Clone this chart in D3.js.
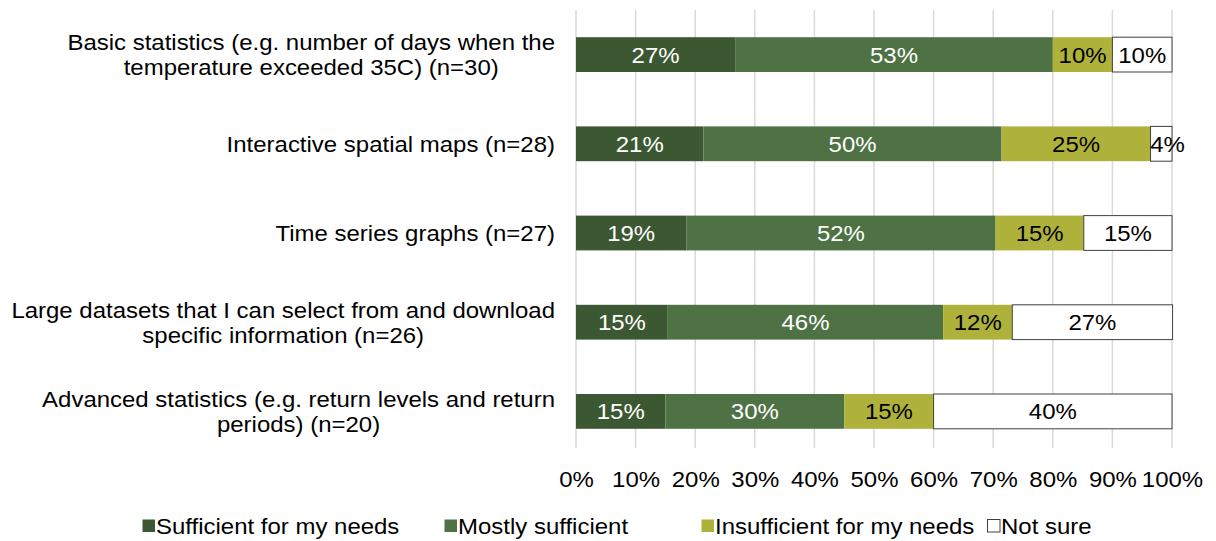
<!DOCTYPE html>
<html>
<head>
<meta charset="utf-8">
<script src="https://cdn.jsdelivr.net/npm/d3@7"></script>
<style>
  body { margin: 0; background: #fff; }
  svg { font-family: "Liberation Sans", Arial, sans-serif; }
</style>
</head>
<body>
<div id="chart"></div>
<script>
// kategorier, en rad per array-element (radbrytningar som i originalet)
const categories = [
  ["Basic statistics (e.g. number of days when the", "temperature exceeded 35C) (n=30)"],
  ["Interactive spatial maps (n=28)"],
  ["Time series graphs (n=27)"],
  ["Large datasets that I can select from and download", "specific information (n=26)"],
  ["Advanced statistics (e.g. return levels and return", "periods) (n=20)"]
];
const seriesNames = ["Sufficient for my needs", "Mostly sufficient", "Insufficient for my needs", "Not sure"];
// andelar i procent
const sufficient = [26.7, 21.4, 18.5, 15.4, 15];
const mostly = [53.3, 50, 51.9, 46.2, 30];
const insufficient = [10, 25, 14.8, 11.6, 15];
const notSure = [10, 3.6, 14.8, 26.9, 40];
const xTicks = [0, 10, 20, 30, 40, 50, 60, 70, 80, 90, 100];

const colors = ["#3c5832", "#4e7244", "#aeb23a", "#ffffff"];
const labelColors = ["#ffffff", "#ffffff", "#000000", "#000000"];

const width = 1216, height = 541;
const margin = { left: 576, right: 44, top: 10, bottom: 85 };
const innerW = width - margin.left - margin.right;
const innerH = height - margin.top - margin.bottom;
// texten i originalet är lite utdragen på bredden
const fontSize = 22;
const sx = 1.09;

// bygg rader för d3.stack
const rows = categories.map((c, i) => ({
  idx: i,
  s0: sufficient[i], s1: mostly[i], s2: insufficient[i], s3: notSure[i]
}));
const keys = ["s0", "s1", "s2", "s3"];
const stacked = d3.stack().keys(keys)(rows);

const xScale = d3.scaleLinear().domain([0, 100]).range([0, innerW]);
const yScale = d3.scaleBand().domain(d3.range(categories.length)).range([0, innerH]).paddingInner(0.61).paddingOuter(0.305);

const svg = d3.select("#chart").append("svg")
  .attr("width", width)
  .attr("height", height);

const g = svg.append("g")
  .attr("transform", "translate(" + margin.left + "," + margin.top + ")");

// gridlinjer
g.append("g")
  .selectAll("line")
  .data(xTicks)
  .join("line")
  .attr("x1", d => xScale(d))
  .attr("x2", d => xScale(d))
  .attr("y1", 0)
  .attr("y2", innerH - 8)
  .attr("stroke", "#d9d9d9")
  .attr("stroke-width", 1.5);

// staplar
const layer = g.selectAll("g.layer")
  .data(stacked)
  .join("g")
  .attr("class", "layer");

layer.selectAll("rect")
  .data((d, k) => d.map(v => ({ v: v, k: k })))
  .join("rect")
  .attr("x", d => xScale(d.v[0]))
  .attr("y", d => yScale(d.v.data.idx))
  .attr("width", d => xScale(d.v[1]) - xScale(d.v[0]))
  .attr("height", yScale.bandwidth())
  .attr("fill", d => colors[d.k])
  .attr("stroke", d => d.k === 3 ? "#404040" : "none")
  .attr("stroke-width", 1);

// etiketter i staplarna
layer.selectAll("text")
  .data((d, k) => d.map(v => ({ v: v, k: k })))
  .join("text")
  .attr("transform", d => {
    const cx = d.k === 3 && d.v[1] - d.v[0] < 5 ? xScale(d.v[0]) + 17 : (xScale(d.v[0]) + xScale(d.v[1])) / 2;
    const cy = yScale(d.v.data.idx) + yScale.bandwidth() / 2;
    return "translate(" + cx + "," + cy + ") scale(" + sx + ",1)";
  })
  .attr("dy", "0.36em")
  .attr("text-anchor", "middle")
  .attr("font-size", fontSize)
  .attr("fill", d => labelColors[d.k])
  .text(d => Math.round(d.v.data[keys[d.k]]) + "%");

// x-axel
const xAxis = d3.axisBottom(xScale)
  .tickValues(xTicks)
  .tickFormat(d => d + "%")
  .tickSize(0)
  .tickPadding(15);

const axG = g.append("g")
  .attr("transform", "translate(0," + innerH + ")")
  .call(xAxis);
axG.select(".domain").remove();
axG.selectAll("text")
  .attr("font-size", fontSize)
  .attr("fill", "#000")
  .attr("font-family", "Liberation Sans, Arial, sans-serif")
  .attr("transform", "scale(" + sx + ",1)");

// kategorietiketter: block högerjusterat, rader centrerade
const catG = svg.append("g");
categories.forEach((lines, i) => {
  const cy = margin.top + yScale(i) + yScale.bandwidth() / 2;
  const t = catG.append("text")
    .attr("transform", "translate(555," + cy + ") scale(" + sx + ",1)")
    .attr("font-size", fontSize)
    .attr("fill", "#000")
    .attr("text-anchor", "middle");
  lines.forEach(line => {
    t.append("tspan").text(line);
  });
  const widths = [];
  t.selectAll("tspan").each(function () { widths.push(this.getComputedTextLength()); });
  const maxW = d3.max(widths);
  const lineH = 25;
  const y0 = -(lines.length - 1) * lineH / 2;
  t.selectAll("tspan")
    .attr("x", -maxW / 2)
    .attr("y", (d, j) => y0 + j * lineH)
    .attr("dy", "0.36em");
});

// legend
const legendX = [142, 444, 701, 987];
const legend = svg.append("g")
  .selectAll("g")
  .data(seriesNames)
  .join("g")
  .attr("transform", (d, i) => "translate(" + legendX[i] + ",526)");

legend.append("rect")
  .attr("x", 0.5)
  .attr("y", -6.5)
  .attr("width", 12.5)
  .attr("height", 12.5)
  .attr("fill", (d, i) => colors[i])
  .attr("stroke", (d, i) => i === 3 ? "#404040" : "none");

legend.append("text")
  .attr("transform", "translate(14,0) scale(" + sx + ",1)")
  .attr("dy", "0.36em")
  .attr("font-size", fontSize)
  .attr("fill", "#000")
  .text(d => d);
</script>
</body>
</html>
